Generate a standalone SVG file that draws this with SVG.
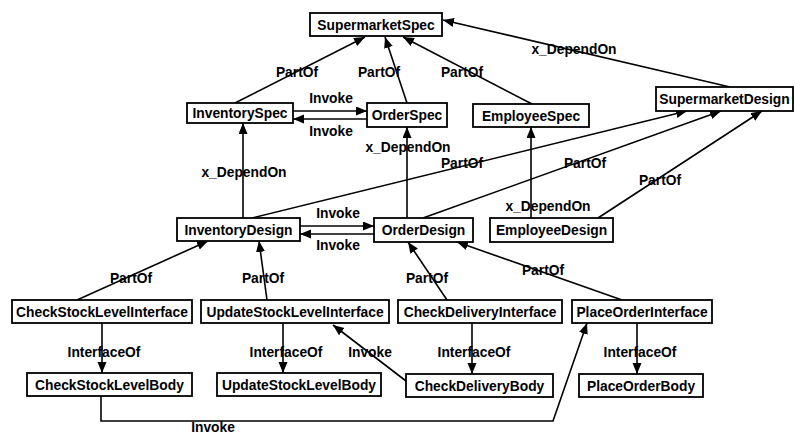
<svg xmlns="http://www.w3.org/2000/svg" width="795" height="436" viewBox="0 0 795 436">
<style>
.n rect{fill:#fff;stroke:#000;stroke-width:1.8}
text{font-family:"Liberation Sans",Arial,sans-serif;font-weight:bold;font-size:13.8px;fill:#000;text-anchor:middle}
.e line,.e polyline{stroke:#000;stroke-width:1.6;fill:none;marker-end:url(#ah)}
</style>
<defs>
<marker id="ah" markerUnits="userSpaceOnUse" markerWidth="12" markerHeight="10" refX="11" refY="4.5" orient="auto"><path d="M0,0 L11,4.5 L0,9 z" fill="#000"/></marker>
</defs>
<rect width="795" height="436" fill="#fff"/>
<g id="edges" class="e">
<line x1="235" y1="103" x2="365" y2="37"/>
<line x1="407" y1="103" x2="385" y2="37"/>
<line x1="532" y1="104" x2="403" y2="37"/>
<line x1="730" y1="87" x2="443" y2="20"/>
<line x1="293" y1="111" x2="367" y2="111"/>
<line x1="367" y1="119" x2="293" y2="119"/>
<line x1="243" y1="218" x2="243" y2="123"/>
<line x1="407" y1="218" x2="407" y2="127"/>
<line x1="252" y1="218" x2="687" y2="111"/>
<line x1="423" y1="218" x2="721" y2="111"/>
<line x1="598" y1="218" x2="762" y2="111"/>
<line x1="531" y1="218" x2="531" y2="127"/>
<line x1="300" y1="226" x2="374" y2="226"/>
<line x1="374" y1="234" x2="300" y2="234"/>
<line x1="77" y1="300" x2="208" y2="241"/>
<line x1="267" y1="300" x2="259" y2="241"/>
<line x1="447" y1="300" x2="408" y2="242"/>
<line x1="622" y1="300" x2="457" y2="242"/>
<line x1="102" y1="323" x2="102" y2="373"/>
<line x1="283" y1="323" x2="283" y2="373"/>
<line x1="472" y1="323" x2="472" y2="374"/>
<line x1="637" y1="323" x2="637" y2="374"/>
<line x1="406" y1="381" x2="333" y2="325"/>
<polyline points="101,396 101,421 553,421 587,323"/>
</g>
<g id="edge-labels">
<text x="297" y="77">PartOf</text>
<text x="379" y="77">PartOf</text>
<text x="462" y="77">PartOf</text>
<text x="574" y="54">x_DependOn</text>
<text x="331" y="103">Invoke</text>
<text x="331" y="136">Invoke</text>
<text x="244" y="177">x_DependOn</text>
<text x="408" y="152">x_DependOn</text>
<text x="462" y="168">PartOf</text>
<text x="585" y="168">PartOf</text>
<text x="660" y="185">PartOf</text>
<text x="548" y="211">x_DependOn</text>
<text x="338" y="218">Invoke</text>
<text x="338" y="250">Invoke</text>
<text x="131" y="283">PartOf</text>
<text x="263" y="283">PartOf</text>
<text x="427" y="283">PartOf</text>
<text x="543" y="275">PartOf</text>
<text x="104" y="357">InterfaceOf</text>
<text x="286" y="357">InterfaceOf</text>
<text x="474" y="357">InterfaceOf</text>
<text x="640" y="357">InterfaceOf</text>
<text x="370" y="357">Invoke</text>
<text x="213" y="432">Invoke</text>
</g>
<g id="SupermarketSpec" class="n"><rect x="310" y="13" width="132" height="23"/><text x="376" y="29.5">SupermarketSpec</text></g>
<g id="InventorySpec" class="n"><rect x="187" y="103" width="106" height="20"/><text x="240" y="118">InventorySpec</text></g>
<g id="OrderSpec" class="n"><rect x="367" y="103" width="80" height="24"/><text x="407" y="120">OrderSpec</text></g>
<g id="EmployeeSpec" class="n"><rect x="473" y="104" width="116" height="23"/><text x="531" y="120.5">EmployeeSpec</text></g>
<g id="SupermarketDesign" class="n"><rect x="656" y="87" width="137" height="24"/><text x="724.5" y="104">SupermarketDesign</text></g>
<g id="InventoryDesign" class="n"><rect x="177" y="218" width="123" height="23"/><text x="238.5" y="234.5">InventoryDesign</text></g>
<g id="OrderDesign" class="n"><rect x="374" y="218" width="99" height="24"/><text x="423.5" y="235">OrderDesign</text></g>
<g id="EmployeeDesign" class="n"><rect x="490" y="218" width="123" height="24"/><text x="551.5" y="235">EmployeeDesign</text></g>
<g id="CheckStockLevelInterface" class="n"><rect x="12" y="300" width="180" height="23"/><text x="102" y="316.5">CheckStockLevelInterface</text></g>
<g id="UpdateStockLevelInterface" class="n"><rect x="201" y="300" width="188" height="23"/><text x="295" y="316.5">UpdateStockLevelInterface</text></g>
<g id="CheckDeliveryInterface" class="n"><rect x="398" y="300" width="164" height="23"/><text x="480" y="316.5">CheckDeliveryInterface</text></g>
<g id="PlaceOrderInterface" class="n"><rect x="572" y="300" width="140" height="23"/><text x="642" y="316.5">PlaceOrderInterface</text></g>
<g id="CheckStockLevelBody" class="n"><rect x="27" y="373" width="165" height="23"/><text x="109.5" y="389.5">CheckStockLevelBody</text></g>
<g id="UpdateStockLevelBody" class="n"><rect x="217" y="373" width="164" height="23"/><text x="299" y="389.5">UpdateStockLevelBody</text></g>
<g id="CheckDeliveryBody" class="n"><rect x="406" y="374" width="147" height="23"/><text x="479.5" y="390.5">CheckDeliveryBody</text></g>
<g id="PlaceOrderBody" class="n"><rect x="579" y="374" width="124" height="23"/><text x="641" y="390.5">PlaceOrderBody</text></g>
</svg>
